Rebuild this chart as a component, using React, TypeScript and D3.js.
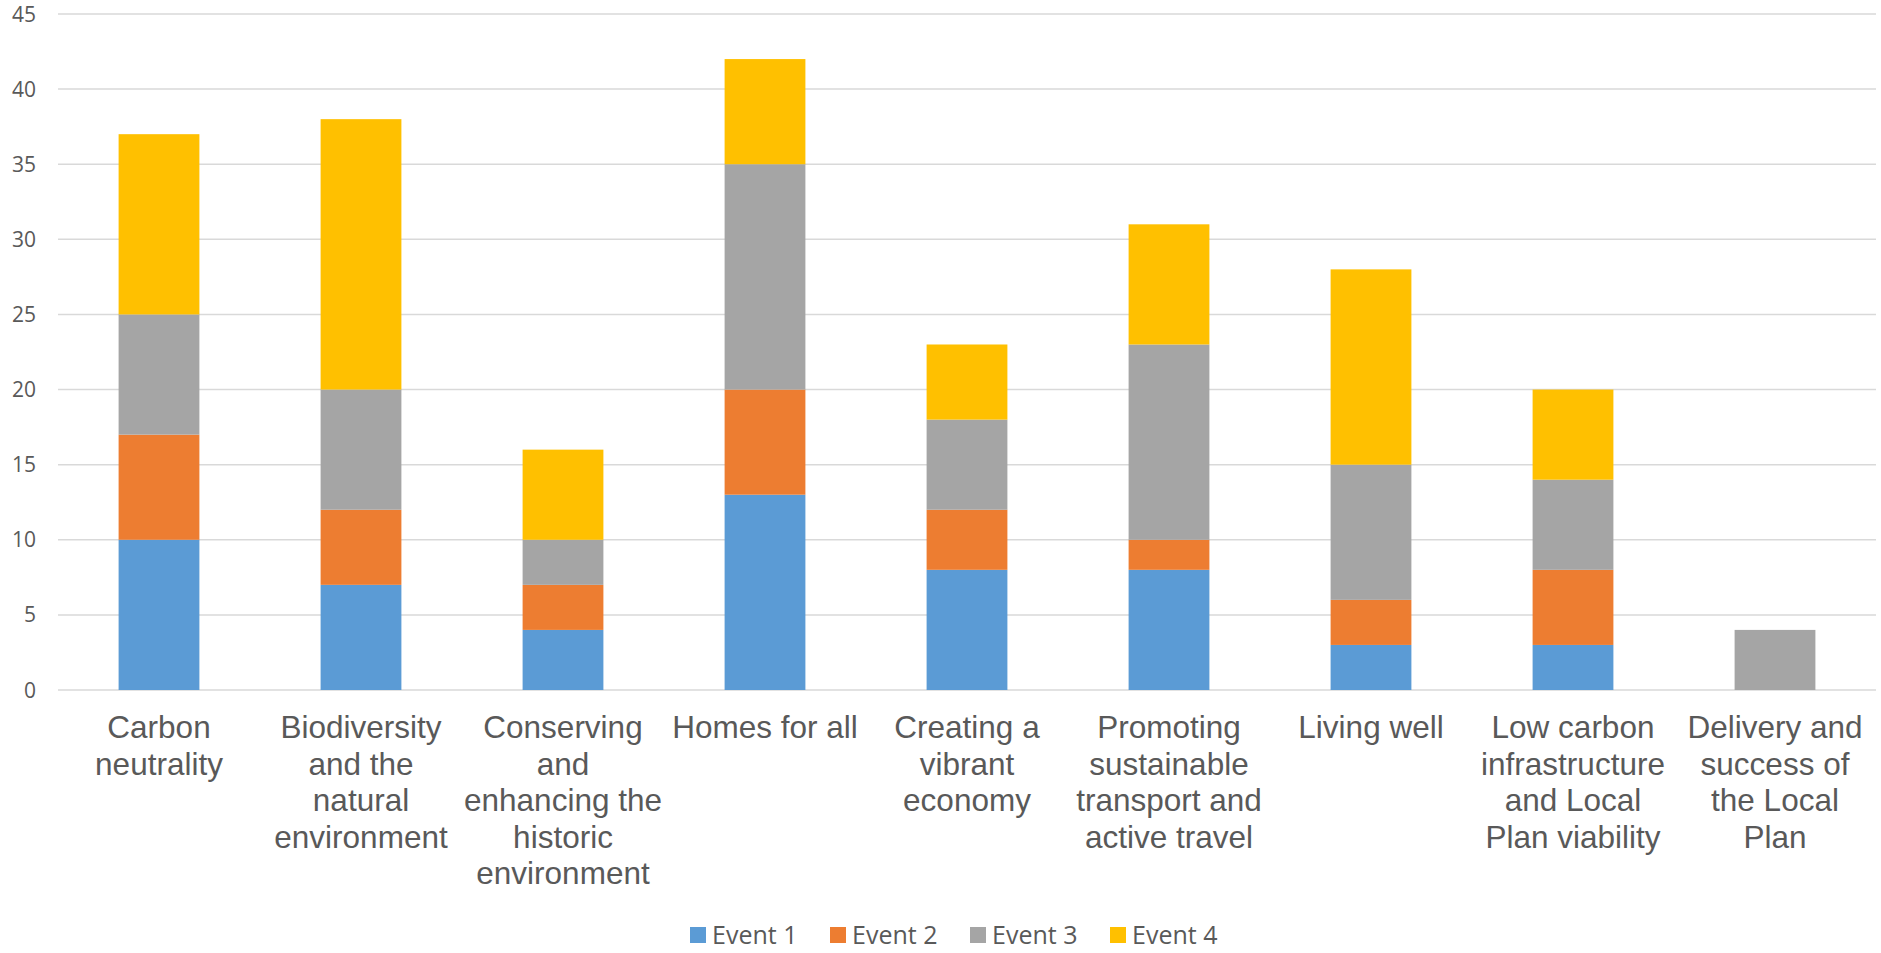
import React, { useEffect, useRef } from 'react';
import * as d3 from 'd3';

const categories = [
  'Carbon neutrality',
  'Biodiversity and the natural environment',
  'Conserving and enhancing the historic environment',
  'Homes for all',
  'Creating a vibrant economy',
  'Promoting sustainable transport and active travel',
  'Living well',
  'Low carbon infrastructure and Local Plan viability',
  'Delivery and success of the Local Plan',
];

// wrapped the way the original axis breaks them
const categoryLines = [
  ['Carbon', 'neutrality'],
  ['Biodiversity', 'and the', 'natural', 'environment'],
  ['Conserving', 'and', 'enhancing the', 'historic', 'environment'],
  ['Homes for all'],
  ['Creating a', 'vibrant', 'economy'],
  ['Promoting', 'sustainable', 'transport and', 'active travel'],
  ['Living well'],
  ['Low carbon', 'infrastructure', 'and Local', 'Plan viability'],
  ['Delivery and', 'success of', 'the Local', 'Plan'],
];

const seriesNames = ['Event 1', 'Event 2', 'Event 3', 'Event 4'];
const event1 = [10, 7, 4, 13, 8, 8, 3, 3, 0];
const event2 = [7, 5, 3, 7, 4, 2, 3, 5, 0];
const event3 = [8, 8, 3, 15, 6, 13, 9, 6, 4];
const event4 = [12, 18, 6, 7, 5, 8, 13, 6, 0];
const seriesColors = ['#5B9BD5', '#ED7D31', '#A5A5A5', '#FFC000'];
const yTicks = [0, 5, 10, 15, 20, 25, 30, 35, 40, 45];

const W = 1881;
const H = 953;

export default function App() {
  const ref = useRef<SVGSVGElement>(null);

  useEffect(() => {
    if (!ref.current) return;
    const svg = d3.select(ref.current);
    svg.selectAll('*').remove();

    const margin = { top: 14, right: 5, bottom: 263, left: 58 };
    const innerW = W - margin.left - margin.right;
    const innerH = H - margin.top - margin.bottom;

    const rows = categories.map((c, i) => ({
      cat: c,
      'Event 1': event1[i],
      'Event 2': event2[i],
      'Event 3': event3[i],
      'Event 4': event4[i],
    }));

    const x = d3.scaleBand<string>().domain(categories).range([0, innerW]).paddingInner(0.6).paddingOuter(0.3);
    const y = d3.scaleLinear().domain([0, 45]).range([innerH, 0]);

    const g = svg.append('g').attr('transform', `translate(${margin.left},${margin.top})`);

    // gridlines
    g.selectAll('.grid')
      .data(yTicks)
      .enter()
      .append('line')
      .attr('x1', 0)
      .attr('x2', innerW)
      .attr('y1', d => y(d))
      .attr('y2', d => y(d))
      .attr('stroke', '#d9d9d9')
      .attr('stroke-width', 1.5);

    // y tick labels
    g.selectAll('.ytick')
      .data(yTicks)
      .enter()
      .append('text')
      .attr('x', -22)
      .attr('y', d => y(d))
      .attr('dy', '0.36em')
      .attr('text-anchor', 'end')
      .attr('fill', '#595959')
      .style('font-family', '"Open Sans", sans-serif')
      .style('font-size', '21px')
      .text(d => d);

    const stack = d3.stack<any>().keys(seriesNames);
    const layers = stack(rows);

    g.selectAll('.layer')
      .data(layers)
      .enter()
      .append('g')
      .attr('fill', (_, i) => seriesColors[i])
      .selectAll('rect')
      .data(d => d)
      .enter()
      .append('rect')
      .attr('x', d => x(d.data.cat)!)
      .attr('width', x.bandwidth())
      .attr('y', d => y(d[1]))
      .attr('height', d => y(d[0]) - y(d[1]));

    // category labels
    const labels = g.selectAll('.xlabel')
      .data(categories)
      .enter()
      .append('text')
      .attr('text-anchor', 'middle')
      .attr('fill', '#595959')
      .style('font-family', '"Liberation Sans", Arial, sans-serif')
      .style('font-size', '31.5px')
      .attr('transform', d => `translate(${x(d)! + x.bandwidth() / 2},${innerH + 48})`);

    labels.selectAll('tspan')
      .data((_, i) => categoryLines[i])
      .enter()
      .append('tspan')
      .attr('x', 0)
      .attr('y', (_, j) => j * 36.5)
      .text(d => d);

    // legend
    const legend = svg.append('g').attr('transform', `translate(690, 935)`);
    const item = legend.selectAll('.item')
      .data(seriesNames)
      .enter()
      .append('g')
      .attr('transform', (_, i) => `translate(${i * 140},0)`);
    item.append('rect')
      .attr('x', 0)
      .attr('y', -8)
      .attr('width', 16)
      .attr('height', 16)
      .attr('fill', (_, i) => seriesColors[i]);
    item.append('text')
      .attr('x', 22)
      .attr('y', 0)
      .attr('dy', '0.36em')
      .attr('fill', '#595959')
      .style('font-family', '"Open Sans", sans-serif')
      .style('font-size', '25px')
      .text(d => d);
  }, []);

  return (
    <svg
      ref={ref}
      width={W}
      height={H}
      style={{ position: 'absolute', left: 0, top: 0, background: '#fff' }}
    />
  );
}
